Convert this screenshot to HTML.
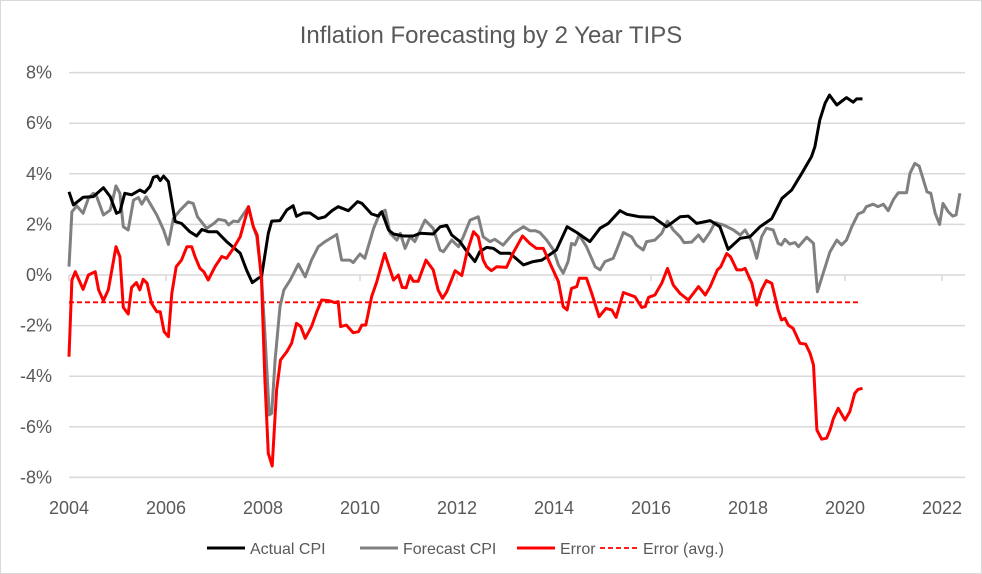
<!DOCTYPE html>
<html><head><meta charset="utf-8"><style>
body{margin:0;background:#fff;}
svg{display:block;font-family:"Liberation Sans",sans-serif;}
</style></head><body>
<svg id="chart" width="982" height="574" viewBox="0 0 982 574">
<rect x="0.5" y="0.5" width="981" height="573" fill="#fff" stroke="#d9d9d9"/>
<text x="491" y="43" text-anchor="middle" font-size="24" fill="#595959">Inflation Forecasting by 2 Year TIPS</text>
<g id="grid"></g><g id="ylabels"></g><g id="xlabels"></g><g id="series"></g>
<g>
<g><line x1="207" y1="548" x2="245" y2="548" stroke="#000" stroke-width="3"/><text x="250" y="554" font-size="16" fill="#595959">Actual CPI</text></g>
<g><line x1="360" y1="548" x2="398" y2="548" stroke="#808080" stroke-width="3"/><text x="403" y="554" font-size="16" fill="#595959">Forecast CPI</text></g>
<g><line x1="517" y1="548" x2="555" y2="548" stroke="#ff0000" stroke-width="3"/><text x="560" y="554" font-size="16" fill="#595959">Error</text></g>
<g><line x1="600" y1="548" x2="638" y2="548" stroke="#ff0000" stroke-width="1.8" stroke-dasharray="5,3"/><text x="643" y="554" font-size="16" fill="#595959">Error (avg.)</text></g>
</g>
</svg>
<script>
const yTicks=[8,6,4,2,0,-2,-4,-6,-8];
const yTickLabels=["8%","6%","4%","2%","0%","-2%","-4%","-6%","-8%"];
const xTicks=[2004,2006,2008,2010,2012,2014,2016,2018,2020,2022];
const xTickLabels=["2004","2006","2008","2010","2012","2014","2016","2018","2020","2022"];
const avgError=-1.08;
const avgRange=[2004,2020.29];
const actualX=[2004.0,2004.09,2004.29,2004.5,2004.71,2004.85,2004.98,2005.05,2005.15,2005.29,2005.46,2005.56,2005.67,2005.74,2005.82,2005.88,2005.95,2006.05,2006.19,2006.32,2006.49,2006.63,2006.74,2006.87,2007.05,2007.25,2007.53,2007.66,2007.78,2007.9,2007.97,2008.11,2008.18,2008.35,2008.49,2008.62,2008.69,2008.83,2008.97,2009.14,2009.28,2009.42,2009.55,2009.76,2009.95,2010.04,2010.24,2010.38,2010.45,2010.59,2010.69,2010.89,2011.1,2011.24,2011.51,2011.65,2011.79,2011.89,2012.06,2012.23,2012.37,2012.47,2012.61,2012.75,2012.89,2013.09,2013.37,2013.57,2013.75,2013.85,2014.05,2014.27,2014.47,2014.74,2014.95,2015.12,2015.36,2015.5,2015.77,2016.05,2016.32,2016.6,2016.77,2016.94,2017.22,2017.42,2017.59,2017.84,2018.04,2018.25,2018.49,2018.7,2018.9,2019.11,2019.31,2019.38,2019.48,2019.59,2019.68,2019.83,2020.03,2020.17,2020.24,2020.36];
const actualY=[3.29,2.77,3.07,3.1,3.45,3.1,2.44,2.5,3.23,3.17,3.36,3.26,3.5,3.86,3.91,3.73,3.91,3.69,2.11,2.04,1.71,1.54,1.8,1.71,1.71,1.32,0.86,0.2,-0.3,-0.13,-0.07,1.65,2.13,2.15,2.57,2.74,2.32,2.45,2.45,2.23,2.3,2.54,2.7,2.54,2.9,2.83,2.41,2.33,2.5,1.78,1.62,1.54,1.54,1.65,1.62,1.9,1.96,1.58,1.32,0.86,0.53,0.92,1.09,1.05,0.86,0.86,0.4,0.53,0.59,0.72,0.99,1.91,1.68,1.32,1.85,2.04,2.54,2.4,2.3,2.28,1.91,2.3,2.33,2.04,2.15,1.91,1.01,1.45,1.51,1.91,2.23,3.03,3.36,4.02,4.68,5.07,6.13,6.79,7.11,6.72,7.01,6.83,6.96,6.96];
const forecastX=[2004.0,2004.06,2004.16,2004.29,2004.4,2004.5,2004.56,2004.71,2004.85,2004.97,2005.05,2005.12,2005.22,2005.33,2005.43,2005.5,2005.59,2005.67,2005.81,2005.95,2006.05,2006.15,2006.29,2006.46,2006.56,2006.65,2006.84,2006.99,2007.08,2007.22,2007.29,2007.39,2007.49,2007.7,2007.8,2007.87,2007.97,2008.04,2008.13,2008.18,2008.25,2008.35,2008.43,2008.56,2008.73,2008.87,2009.0,2009.14,2009.28,2009.52,2009.62,2009.79,2009.86,2010.0,2010.1,2010.28,2010.41,2010.52,2010.62,2010.76,2010.83,2010.93,2011.03,2011.13,2011.34,2011.51,2011.65,2011.72,2011.89,2012.03,2012.13,2012.27,2012.44,2012.54,2012.68,2012.78,2012.95,2013.16,2013.37,2013.5,2013.61,2013.71,2013.85,2013.99,2014.09,2014.19,2014.29,2014.36,2014.43,2014.52,2014.67,2014.85,2014.95,2015.05,2015.22,2015.29,2015.43,2015.6,2015.7,2015.84,2015.91,2016.08,2016.22,2016.34,2016.46,2016.6,2016.68,2016.84,2016.98,2017.08,2017.22,2017.32,2017.49,2017.7,2017.84,2017.94,2018.08,2018.18,2018.28,2018.38,2018.52,2018.62,2018.69,2018.76,2018.86,2018.97,2019.04,2019.21,2019.35,2019.43,2019.55,2019.69,2019.83,2019.93,2020.03,2020.14,2020.27,2020.38,2020.44,2020.58,2020.68,2020.79,2020.89,2021.0,2021.1,2021.27,2021.34,2021.44,2021.53,2021.69,2021.77,2021.86,2021.95,2022.02,2022.13,2022.22,2022.29,2022.37];
const forecastY=[0.33,2.5,2.73,2.44,3.03,3.23,3.16,2.37,2.56,3.52,3.23,1.91,1.78,2.96,3.06,2.8,3.09,2.83,2.37,1.78,1.21,2.23,2.56,2.89,2.83,2.3,1.84,2.04,2.2,2.15,1.98,2.13,2.11,2.7,1.91,1.52,-0.07,-2.31,-5.53,-5.47,-3.36,-1.25,-0.59,-0.2,0.43,-0.07,0.59,1.12,1.32,1.6,0.59,0.59,0.49,0.83,0.66,1.84,2.45,2.56,1.65,1.38,1.65,1.05,1.51,1.32,2.17,1.84,0.99,0.92,1.38,1.12,1.51,2.17,2.3,1.51,1.32,1.41,1.18,1.65,1.91,1.75,1.75,1.68,1.38,0.99,0.4,0.07,0.53,1.25,1.19,1.58,1.12,0.33,0.2,0.53,0.66,0.99,1.68,1.51,1.18,0.99,1.32,1.38,1.65,2.13,1.78,1.51,1.28,1.3,1.58,1.32,1.71,2.07,1.98,1.78,1.58,1.78,1.32,0.66,1.51,1.85,1.78,1.25,1.19,1.41,1.22,1.28,1.12,1.49,1.25,-0.66,0.07,0.92,1.38,1.19,1.38,1.91,2.41,2.5,2.7,2.8,2.7,2.8,2.54,2.99,3.25,3.25,4.02,4.41,4.3,3.29,3.23,2.44,2.0,2.83,2.5,2.33,2.37,3.23];
const errorX=[2004.0,2004.06,2004.13,2004.29,2004.4,2004.54,2004.61,2004.71,2004.81,2004.97,2005.05,2005.12,2005.22,2005.29,2005.39,2005.46,2005.53,2005.61,2005.7,2005.81,2005.88,2005.96,2006.05,2006.12,2006.21,2006.32,2006.43,2006.53,2006.6,2006.7,2006.78,2006.87,2007.01,2007.15,2007.25,2007.39,2007.53,2007.7,2007.8,2007.88,2007.97,2008.04,2008.11,2008.19,2008.28,2008.36,2008.49,2008.59,2008.69,2008.78,2008.87,2009.0,2009.11,2009.21,2009.35,2009.48,2009.55,2009.6,2009.72,2009.86,2009.97,2010.04,2010.12,2010.24,2010.34,2010.51,2010.69,2010.79,2010.87,2010.95,2011.03,2011.1,2011.2,2011.36,2011.51,2011.61,2011.7,2011.79,2011.96,2012.1,2012.2,2012.34,2012.44,2012.54,2012.61,2012.71,2012.82,2013.02,2013.16,2013.35,2013.5,2013.64,2013.78,2013.95,2014.09,2014.19,2014.27,2014.36,2014.47,2014.52,2014.67,2014.78,2014.93,2015.07,2015.19,2015.28,2015.43,2015.67,2015.81,2015.88,2015.95,2016.08,2016.22,2016.34,2016.46,2016.6,2016.77,2016.98,2017.12,2017.22,2017.37,2017.44,2017.56,2017.64,2017.77,2017.87,2017.94,2018.08,2018.18,2018.28,2018.38,2018.49,2018.62,2018.69,2018.76,2018.83,2018.93,2019.07,2019.19,2019.28,2019.35,2019.42,2019.52,2019.62,2019.69,2019.76,2019.86,2020.0,2020.1,2020.2,2020.27,2020.36];
const errorY=[-3.23,-0.2,0.13,-0.57,0.0,0.13,-0.59,-1.01,-0.59,1.12,0.72,-1.28,-1.54,-0.49,-0.3,-0.59,-0.17,-0.33,-1.12,-1.45,-1.45,-2.24,-2.44,-0.73,0.33,0.59,1.12,1.12,0.72,0.26,0.13,-0.2,0.33,0.73,0.66,1.05,1.51,2.7,1.91,1.58,-0.2,-4.15,-7.05,-7.55,-4.55,-3.36,-3.03,-2.7,-1.91,-2.04,-2.5,-2.04,-1.45,-0.99,-1.01,-1.09,-1.05,-2.04,-1.98,-2.28,-2.24,-1.98,-1.98,-0.86,-0.3,0.85,-0.2,0.0,-0.49,-0.51,-0.02,-0.25,-0.25,0.59,0.2,-0.59,-0.92,-0.66,0.17,-0.02,0.85,1.71,1.51,0.59,0.33,0.17,0.33,0.3,0.88,1.54,1.25,1.05,1.05,0.33,-0.26,-1.25,-1.38,-0.53,-0.46,-0.13,-0.13,-0.73,-1.65,-1.32,-1.38,-1.67,-0.69,-0.86,-1.28,-1.25,-0.88,-0.79,-0.33,0.26,-0.4,-0.73,-0.99,-0.46,-0.79,-0.46,0.2,0.33,0.85,0.72,0.2,0.2,0.26,-0.33,-1.19,-0.59,-0.22,-0.33,-1.38,-1.78,-1.71,-1.98,-2.11,-2.7,-2.73,-3.1,-3.56,-6.13,-6.49,-6.45,-6.13,-5.67,-5.27,-5.73,-5.4,-4.68,-4.52,-4.48];

const NS='http://www.w3.org/2000/svg';
const X0=69, PXY=48.5, Y0=275, PXV=25.3, XR=965;
function xs(v){return X0+(v-2004)*PXY;}
function ys(v){return Y0-v*PXV;}
function mk(tag,attrs,parent){const e=document.createElementNS(NS,tag);for(const k in attrs)e.setAttribute(k,attrs[k]);parent.appendChild(e);return e;}
const grid=document.getElementById('grid'),yl=document.getElementById('ylabels'),xl=document.getElementById('xlabels'),ser=document.getElementById('series');
yTicks.forEach((t,i)=>{
  const g=mk('line',{x1:X0,x2:XR,y1:ys(t),y2:ys(t),stroke:'#d9d9d9','stroke-width':1.5},grid);
  
  
  const tx=mk('text',{x:52,y:ys(t)+6,'text-anchor':'end','font-size':18,fill:'#595959'},yl);
  tx.textContent=yTickLabels[i];
  
  
});
xTicks.forEach((t,i)=>{
  const tk=mk('line',{x1:xs(t),x2:xs(t),y1:Y0,y2:Y0+6,stroke:'#d9d9d9','stroke-width':1.5},grid);
  
  
  const tx=mk('text',{x:xs(t),y:514,'text-anchor':'middle','font-size':18,fill:'#595959'},xl);
  tx.textContent=xTickLabels[i];
  
  
});
function line(xa,ya,color,name){
  const d=xa.map((x,i)=>(i?'L':'M')+xs(x).toFixed(1)+','+ys(ya[i]).toFixed(1)).join('');
  const p=mk('path',{d:d,fill:'none',stroke:color,'stroke-width':3,'stroke-linejoin':'round'},ser);
  
  
}
const av=mk('line',{x1:xs(avgRange[0]),x2:xs(avgRange[1]),y1:ys(avgError),y2:ys(avgError),stroke:'#ff0000','stroke-width':1.8,'stroke-dasharray':'5,3'},ser);


line(forecastX,forecastY,'#808080','forecast-cpi-line');
line(actualX,actualY,'#000000','actual-cpi-line');
line(errorX,errorY,'#ff0000','error-line');
</script>
</body></html>
